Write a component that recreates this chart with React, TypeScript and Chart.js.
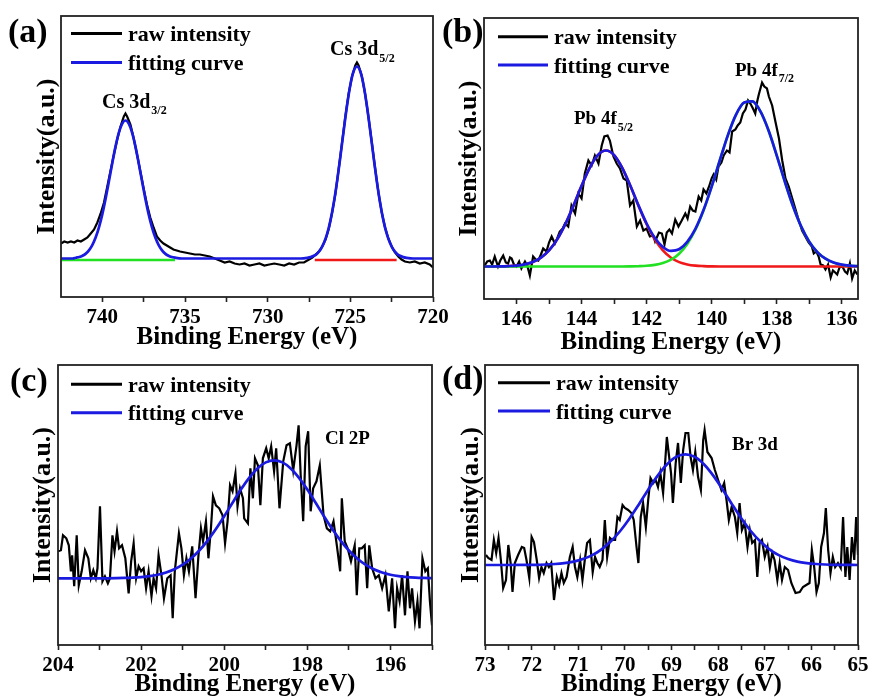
import React, { useEffect, useRef } from 'react';
import { Chart, registerables } from 'chart.js';

Chart.register(...registerables);

const FONT = "'Liberation Serif', 'Times New Roman', serif";
const BLUE = '#1a1ae0';
const GREEN = '#22e022';
const RED = '#f01818';
const BLACK = '#000000';

type Pt = [number, number];

// ---------------- Panel (a) Cs 3d ----------------
const aTicks = [720, 722.5, 725, 727.5, 730, 732.5, 735, 737.5, 740];
const aMajors = [720, 725, 730, 735, 740];
const aRaw: Pt[] = [
  [742.5, 15], [742.3, 17], [742.1, 16], [741.9, 17], [741.7, 16], [741.5, 18], [741.3, 17], [741.1, 19], [740.9, 21], [740.7, 25],
  [740.5, 29], [740.3, 36], [740.1, 45], [739.9, 56], [739.7, 72], [739.5, 88], [739.3, 104], [739.1, 119], [738.9, 132], [738.7, 142],
  [738.6, 145], [738.5, 142], [738.3, 134], [738.1, 120], [737.9, 104], [737.7, 87], [737.5, 70], [737.3, 54], [737.1, 41], [736.9, 31],
  [736.7, 22], [736.5, 18], [736.3, 15], [736.1, 13], [735.9, 11], [735.7, 9], [735.5, 8], [735.3, 7], [735.0, 6], [734.7, 5],
  [734.4, 4], [734.1, 4], [733.8, 3], [733.5, 2], [733.2, 0], [732.9, -2], [732.6, -4], [732.3, -3], [732.0, -5], [731.7, -6],
  [731.4, -5], [731.1, -7], [730.8, -6], [730.5, -5], [730.2, -7], [729.9, -6], [729.6, -5], [729.3, -6], [729.0, -7], [728.7, -5],
  [728.4, -6], [728.1, -4], [727.8, -4], [727.5, -1], [727.3, 1], [727.1, 4], [726.9, 7], [726.7, 12], [726.5, 19], [726.3, 30],
  [726.1, 46], [725.9, 65], [725.7, 90], [725.5, 116], [725.3, 142], [725.1, 165], [724.9, 182], [724.7, 193], [724.6, 196], [724.5, 193],
  [724.3, 182], [724.1, 164], [723.9, 141], [723.7, 116], [723.5, 90], [723.3, 66], [723.1, 46], [722.9, 31], [722.7, 20], [722.5, 12],
  [722.3, 6], [722.1, 2], [721.9, -1], [721.7, -3], [721.4, -4], [721.1, -3], [720.8, -5], [720.5, -4], [720.2, -6], [720.0, -9],
];
const aFit: Pt[] = [
  [742.5, 0], [741.8, 0], [741.6, 0.8], [741.4, 1.5], [741.2, 2.8], [741.0, 4.9], [740.8, 8.4], [740.6, 13.7], [740.4, 21.2], [740.2, 31.4],
  [740.0, 44.4], [739.8, 60.1], [739.6, 77.4], [739.4, 95.3], [739.2, 112.1], [739.0, 125.8], [738.8, 134.8], [738.6, 138], [738.4, 134.8], [738.2, 125.8],
  [738.0, 112.1], [737.8, 95.3], [737.6, 77.4], [737.4, 60.1], [737.2, 44.4], [737.0, 31.4], [736.8, 21.2], [736.6, 13.7], [736.4, 8.4], [736.2, 4.9],
  [736.0, 2.8], [735.8, 1.5], [735.6, 0.8], [735.2, 0], [728.0, 0], [727.6, 0.7], [727.4, 1.4], [727.2, 2.7], [727.0, 5.1], [726.8, 9.0],
  [726.6, 15.4], [726.4, 24.8], [726.2, 38.1], [726.0, 55.7], [725.8, 77.4], [725.6, 102.1], [725.4, 128.2], [725.2, 153.0], [725.0, 173.6], [724.8, 187.2],
  [724.6, 192], [724.4, 187.2], [724.2, 173.6], [724.0, 153.0], [723.8, 128.2], [723.6, 102.1], [723.4, 77.4], [723.2, 55.7], [723.0, 38.1], [722.8, 24.8],
  [722.6, 15.4], [722.4, 9.0], [722.2, 5.1], [722.0, 2.7], [721.8, 1.4], [721.6, 0.7], [721.2, 0], [720.0, 0],
];
const aGreen: Pt[] = [[742.45, -1.5], [735.6, -1.5]];
const aRed: Pt[] = [[727.15, -1.5], [722.2, -1.5]];

// ---------------- Panel (b) Pb 4f ----------------
const bTicks = [136, 137, 138, 139, 140, 141, 142, 143, 144, 145, 146];
const bMajors = [136, 138, 140, 142, 144, 146];
const bRaw: Pt[] = [
  [146.98, 1], [146.9, 5], [146.82, 6], [146.75, 2], [146.67, 10], [146.57, 0], [146.5, 6], [146.41, 11], [146.33, 4], [146.26, 3],
  [146.2, 9], [146.15, 8], [146.08, 2], [146.0, 0], [145.92, 5], [145.85, -2], [145.74, 5], [145.67, 1], [145.59, -9], [145.49, 10],
  [145.41, 7], [145.33, 6], [145.25, 12], [145.18, 18], [145.08, 15], [145.0, 24], [144.92, 30], [144.82, 23], [144.75, 28], [144.67, 35],
  [144.58, 38], [144.51, 43], [144.41, 40], [144.31, 61], [144.2, 53], [144.1, 73], [144.0, 68], [143.9, 93], [143.79, 106], [143.69, 101],
  [143.59, 111], [143.48, 103], [143.38, 121], [143.3, 130], [143.2, 131], [143.13, 126], [143.02, 110], [142.92, 103], [142.82, 98], [142.71, 88],
  [142.61, 86], [142.51, 61], [142.41, 66], [142.3, 40], [142.2, 46], [142.1, 36], [142.0, 38], [141.9, 30], [141.8, 31], [141.74, 25],
  [141.62, 34], [141.53, 33], [141.45, 22], [141.38, 34], [141.3, 37], [141.22, 33], [141.12, 47], [141.02, 40], [140.92, 46], [140.81, 53],
  [140.74, 48], [140.66, 60], [140.58, 56], [140.5, 55], [140.4, 70], [140.32, 66], [140.25, 77], [140.16, 73], [140.08, 80], [140.0, 88],
  [139.94, 92], [139.86, 87], [139.79, 100], [139.7, 104], [139.63, 111], [139.53, 116], [139.45, 114], [139.37, 135], [139.27, 137], [139.2, 141],
  [139.12, 144], [139.04, 153], [138.96, 157], [138.88, 166], [138.81, 163], [138.73, 158], [138.66, 153], [138.6, 165], [138.55, 172], [138.45, 184],
  [138.38, 180], [138.3, 178], [138.24, 170], [138.14, 161], [138.04, 145], [137.93, 128], [137.83, 106], [137.73, 88], [137.63, 80], [137.53, 69],
  [137.42, 57], [137.32, 46], [137.22, 36], [137.12, 30], [137.02, 24], [136.92, 20], [136.86, 13], [136.78, 15], [136.71, 10], [136.65, 2],
  [136.57, 1], [136.5, -3], [136.42, 2], [136.34, -11], [136.27, -4], [136.2, -6], [136.14, -8], [136.07, -1], [135.98, 0], [135.9, -5],
  [135.83, -7], [135.75, 3], [135.68, -12], [135.6, -4], [135.52, -8],
];
const bFit: Pt[] = [
  [147, 0], [146.75, 0], [146.5, 0.1], [146.25, 0.4], [146, 0.9], [145.75, 2.1], [145.5, 4.4], [145.25, 8.8], [145, 16.1], [144.75, 27.1],
  [144.5, 42.3], [144.25, 60.8], [144, 80.7], [143.75, 98.7], [143.5, 111.4], [143.25, 116], [143, 111.4], [142.75, 98.7], [142.5, 80.8], [142.25, 61.1],
  [142, 43.0], [141.75, 28.7], [141.5, 19.5], [141.25, 15.6], [141, 17.2], [140.75, 24.6], [140.5, 37.6], [140.25, 56.4], [140, 79.9], [139.75, 106.0],
  [139.5, 131.4], [139.25, 151.9], [139, 163.9], [138.75, 165.1], [138.5, 155.1], [138.25, 136.0], [138, 111.2], [137.75, 84.9], [137.5, 60.5], [137.25, 40.2],
  [137, 24.9], [136.75, 14.4], [136.5, 7.8], [136.25, 3.9], [136, 1.8], [135.75, 0.8], [135.5, 0.3],
];
const bRed: Pt[] = [
  [147, 0], [146.75, 0], [146.5, 0.1], [146.25, 0.4], [146, 0.9], [145.75, 2.1], [145.5, 4.4], [145.25, 8.8], [145, 16.1], [144.75, 27.1],
  [144.5, 42.3], [144.25, 60.8], [144, 80.7], [143.75, 98.7], [143.5, 111.4], [143.25, 116], [143, 111.4], [142.75, 98.7], [142.5, 80.7], [142.25, 60.8],
  [142, 42.3], [141.75, 27.1], [141.5, 16.1], [141.25, 8.8], [141, 4.4], [140.75, 2.1], [140.5, 0.9], [140.25, 0.4], [140, 0.1], [139.75, 0], [135.5, 0],
];
const bGreen: Pt[] = [
  [147, 0], [142.75, 0], [142.5, 0.1], [142.25, 0.3], [142, 0.7], [141.75, 1.6], [141.5, 3.4], [141.25, 6.8], [141, 12.8], [140.75, 22.5],
  [140.5, 36.7], [140.25, 56.0], [140, 79.8], [139.75, 106.0], [139.5, 131.4], [139.25, 151.9], [139, 163.9], [138.75, 165.1], [138.5, 155.1], [138.25, 136.0],
  [138, 111.2], [137.75, 84.9], [137.5, 60.5], [137.25, 40.2], [137, 24.9], [136.75, 14.4], [136.5, 7.8], [136.25, 3.9], [136, 1.8], [135.75, 0.8], [135.5, 0.3],
];

// ---------------- Panel (c) Cl 2p ----------------
const cTicks = [195, 196, 197, 198, 199, 200, 201, 202, 203, 204];
const cMajors = [196, 198, 200, 202, 204];
const cRaw: Pt[] = [
  [204.0, 27], [203.93, 28], [203.88, 43], [203.8, 40], [203.74, 33], [203.69, 7], [203.66, 23], [203.61, -8], [203.55, 43], [203.5, -7],
  [203.43, 7], [203.35, 28], [203.27, 20], [203.21, 0], [203.15, 8], [203.09, 0], [203.05, 10], [202.99, 72], [202.93, -3], [202.87, 2],
  [202.8, -5], [202.75, 0], [202.69, 43], [202.64, 27], [202.58, 47], [202.53, 30], [202.46, 33], [202.38, 20], [202.3, -15], [202.24, 17],
  [202.18, 35], [202.12, 0], [202.06, 12], [202.0, 7], [201.94, 10], [201.88, -10], [201.82, 7], [201.75, -18], [201.7, 0], [201.64, -10],
  [201.58, 23], [201.51, 3], [201.45, -20], [201.37, 0], [201.29, 3], [201.24, -40], [201.19, 7], [201.09, 45], [201.03, 30], [200.97, 3],
  [200.91, 20], [200.85, 7], [200.77, 32], [200.69, -20], [200.62, 23], [200.56, 50], [200.51, 37], [200.44, 57], [200.38, 20], [200.32, 50],
  [200.27, 82], [200.2, 73], [200.12, 70], [200.04, 63], [199.98, 35], [199.92, 57], [199.86, 93], [199.8, 87], [199.73, 105], [199.68, 72],
  [199.62, 90], [199.55, 80], [199.52, 60], [199.43, 55], [199.37, 110], [199.31, 80], [199.26, 120], [199.19, 113], [199.13, 73], [199.07, 120],
  [198.99, 130], [198.93, 120], [198.87, 132], [198.8, 107], [198.75, 130], [198.67, 70], [198.58, 117], [198.5, 133], [198.42, 135], [198.34, 108],
  [198.26, 133], [198.21, 153], [198.16, 103], [198.1, 57], [198.04, 132], [197.98, 147], [197.92, 67], [197.86, 90], [197.78, 97], [197.7, 113],
  [197.61, 63], [197.53, 50], [197.45, 47], [197.37, 57], [197.29, 33], [197.21, 7], [197.17, 80], [197.1, 37], [197.03, 30], [196.95, 17],
  [196.86, 33], [196.81, -17], [196.75, 30], [196.69, 30], [196.62, 33], [196.56, -10], [196.51, 33], [196.44, 10], [196.36, 0], [196.28, 3],
  [196.2, -10], [196.12, 3], [196.04, -33], [195.96, 0], [195.89, -50], [195.84, -10], [195.78, -23], [195.72, 3], [195.65, -37], [195.59, 7],
  [195.53, -30], [195.48, -10], [195.41, -43], [195.35, -23], [195.3, -50], [195.23, 20], [195.16, 7], [195.1, 10], [195.05, -23], [195.0, -47],
];
const cFit: Pt[] = [
  [204, 0], [203.0, 0], [202.6, 0.2], [202.4, 0.4], [202.2, 0.7], [202.0, 1.2], [201.8, 2.1], [201.6, 3.6], [201.4, 5.8], [201.2, 9.0],
  [201.0, 13.6], [200.8, 19.8], [200.6, 27.8], [200.4, 37.6], [200.2, 49.2], [200.0, 62.0], [199.8, 75.5], [199.6, 88.7], [199.4, 100.5], [199.2, 109.9],
  [199.0, 115.9], [198.8, 118], [198.6, 115.9], [198.4, 109.9], [198.2, 100.5], [198.0, 88.7], [197.8, 75.5], [197.6, 62.0], [197.4, 49.2], [197.2, 37.6],
  [197.0, 27.8], [196.8, 19.8], [196.6, 13.6], [196.4, 9.0], [196.2, 5.8], [196.0, 3.6], [195.8, 2.1], [195.6, 1.2], [195.4, 0.7], [195.2, 0.4], [195.0, 0.2],
];

// ---------------- Panel (d) Br 3d ----------------
const dTicks = [65, 65.5, 66, 66.5, 67, 67.5, 68, 68.5, 69, 69.5, 70, 70.5, 71, 71.5, 72, 72.5, 73];
const dMajors = [65, 66, 67, 68, 69, 70, 71, 72, 73];
const dRaw: Pt[] = [
  [72.98, 10], [72.93, 7], [72.86, 5], [72.81, 25], [72.76, 12], [72.71, 27], [72.66, 5], [72.61, -23], [72.55, -15], [72.5, 20],
  [72.45, 2], [72.41, -27], [72.36, 2], [72.29, 10], [72.21, 18], [72.16, 17], [72.11, 5], [72.05, -13], [72.0, 28], [71.95, 23],
  [71.89, 5], [71.84, -13], [71.79, -2], [71.74, -8], [71.68, 2], [71.63, -2], [71.58, 2], [71.52, -35], [71.46, -12], [71.41, -20],
  [71.36, -8], [71.31, -18], [71.25, -12], [71.18, 8], [71.12, 18], [71.07, -2], [71.02, -12], [70.96, 5], [70.91, -15], [70.86, 5],
  [70.81, 22], [70.75, 25], [70.69, -7], [70.64, 8], [70.59, 2], [70.54, -2], [70.48, 5], [70.43, 45], [70.38, 8], [70.32, 27],
  [70.27, 25], [70.21, 25], [70.16, 48], [70.11, 45], [70.05, 60], [70.0, 57], [69.93, 55], [69.86, 52], [69.81, 45], [69.75, 18],
  [69.71, 2], [69.66, 48], [69.61, 62], [69.55, 38], [69.5, 65], [69.45, 87], [69.39, 82], [69.34, 85], [69.29, 78], [69.24, 92],
  [69.18, 72], [69.1, 128], [69.01, 92], [68.97, 62], [68.91, 102], [68.86, 122], [68.8, 82], [68.75, 115], [68.7, 132], [68.64, 132],
  [68.59, 108], [68.54, 95], [68.49, 113], [68.43, 88], [68.37, 75], [68.32, 125], [68.29, 135], [68.23, 113], [68.14, 107], [68.07, 95],
  [68.0, 85], [67.93, 75], [67.87, 82], [67.82, 65], [67.77, 45], [67.71, 58], [67.64, 48], [67.59, 32], [67.54, 62], [67.49, 35],
  [67.43, 42], [67.37, 18], [67.32, 35], [67.27, 22], [67.21, 25], [67.16, -12], [67.11, 22], [67.06, 25], [67.0, 8], [66.94, 18],
  [66.89, -2], [66.84, 12], [66.79, 5], [66.73, -15], [66.68, 2], [66.63, -15], [66.57, -2], [66.5, -5], [66.43, -18], [66.34, -28],
  [66.25, -27], [66.18, -22], [66.11, -20], [66.04, -18], [65.99, 15], [65.94, -2], [65.89, -27], [65.84, -18], [65.79, 18], [65.73, 32],
  [65.69, 57], [65.64, 15], [65.59, -8], [65.54, 8], [65.49, -2], [65.43, 2], [65.37, -3], [65.32, 48], [65.27, -12], [65.23, 18],
  [65.18, -15], [65.13, 28], [65.08, 5], [65.04, 48], [65.0, 10],
];
const dFit: Pt[] = [
  [73, 0], [72.1, 0.1], [71.9, 0.2], [71.7, 0.5], [71.5, 1.0], [71.3, 1.9], [71.1, 3.4], [70.9, 6.0], [70.7, 9.9], [70.5, 15.7],
  [70.3, 23.7], [70.1, 34.0], [69.9, 46.5], [69.7, 60.6], [69.5, 75.3], [69.3, 89.1], [69.1, 100.5], [68.9, 108.1], [68.7, 110.7], [68.5, 108.1],
  [68.3, 100.5], [68.1, 89.1], [67.9, 75.3], [67.7, 60.6], [67.5, 46.5], [67.3, 34.0], [67.1, 23.7], [66.9, 15.7], [66.7, 9.9], [66.5, 6.0],
  [66.3, 3.4], [66.1, 1.9], [65.9, 1.0], [65.7, 0.5], [65.5, 0.2], [65.3, 0.1], [65, 0],
];

// ---------------- layout specs ----------------
type Note = { text: string; x: number; y: number; size: number; sub?: string; subY?: number; subSize?: number };
type Spec = {
  left: number; top: number; width: number; height: number;
  area: { l: number; t: number; r: number; b: number };
  xMin: number; xMax: number; yMin: number; yMax: number;
  ticks: number[]; majors: number[];
  raw: Pt[]; fit: Pt[]; comps: { pts: Pt[]; color: string; smooth: boolean }[];
  yTitlePad: number;
  label: { text: string; x: number; y: number };
  legend: { x1: number; x2: number; tx: number; ly: number[]; ty: number[] };
  notes: Note[];
};

const specs: Spec[] = [
  {
    left: 0, top: 0, width: 456, height: 353,
    area: { l: 61, t: 16, r: 433, b: 297 },
    xMin: 720, xMax: 742.5, yMin: -38.5, yMax: 242.5,
    ticks: aTicks, majors: aMajors, raw: aRaw, fit: aFit,
    comps: [{ pts: aGreen, color: GREEN, smooth: false }, { pts: aRed, color: RED, smooth: false }],
    yTitlePad: 31.4,
    label: { text: '(a)', x: 8, y: 42 },
    legend: { x1: 71, x2: 122, tx: 128, ly: [33.5, 62.5], ty: [41, 69.5] },
    notes: [
      { text: 'Cs 3d', x: 102, y: 108, size: 20, sub: '3/2', subY: 114, subSize: 12 },
      { text: 'Cs 3d', x: 330, y: 55, size: 20, sub: '5/2', subY: 61.5, subSize: 12 },
    ],
  },
  {
    left: 440, top: 0, width: 430, height: 358,
    area: { l: 484, t: 18, r: 858, b: 299 },
    xMin: 135.5, xMax: 147, yMin: -32.5, yMax: 248.5,
    ticks: bTicks, majors: bMajors, raw: bRaw, fit: bFit,
    comps: [{ pts: bGreen, color: GREEN, smooth: true }, { pts: bRed, color: RED, smooth: true }],
    yTitlePad: 13.4,
    label: { text: '(b)', x: 442, y: 42 },
    legend: { x1: 498, x2: 548, tx: 554, ly: [36.7, 65], ty: [44, 72.5] },
    notes: [
      { text: 'Pb 4f', x: 574, y: 124, size: 19, sub: '5/2', subY: 130.5, subSize: 12 },
      { text: 'Pb 4f', x: 735, y: 75.5, size: 19, sub: '7/2', subY: 82, subSize: 12 },
    ],
  },
  {
    left: 0, top: 350, width: 456, height: 350,
    area: { l: 58, t: 365, r: 432, b: 645 },
    xMin: 195, xMax: 204, yMin: -66.7, yMax: 213.3,
    ticks: cTicks, majors: cMajors, raw: cRaw, fit: cFit, comps: [],
    yTitlePad: 27.4,
    label: { text: '(c)', x: 10, y: 391 },
    legend: { x1: 71, x2: 122, tx: 128, ly: [384.3, 412.7], ty: [392, 420] },
    notes: [{ text: 'Cl 2P', x: 325, y: 444, size: 19 }],
  },
  {
    left: 440, top: 350, width: 430, height: 350,
    area: { l: 485, t: 365, r: 858, b: 645 },
    xMin: 65, xMax: 73, yMin: -80, yMax: 200,
    ticks: dTicks, majors: dMajors, raw: dRaw, fit: dFit, comps: [],
    yTitlePad: 15.4,
    label: { text: '(d)', x: 442, y: 389 },
    legend: { x1: 498, x2: 550, tx: 556, ly: [382.7, 411], ty: [390, 418.5] },
    notes: [{ text: 'Br 3d', x: 732, y: 450, size: 19 }],
  },
];

const toXY = (pts: Pt[]) => pts.map(([x, y]) => ({ x, y }));

function makeDecor(spec: Spec) {
  return {
    id: 'decor',
    afterDraw(chart: any) {
      const ctx = chart.ctx as CanvasRenderingContext2D;
      const a = chart.chartArea;
      const ox = spec.left;
      const oy = spec.top;
      ctx.save();
      ctx.strokeStyle = '#222';
      ctx.lineWidth = 1.8;
      ctx.strokeRect(a.left, a.top, a.right - a.left, a.bottom - a.top);
      ctx.fillStyle = '#000';
      ctx.textAlign = 'left';
      ctx.textBaseline = 'alphabetic';
      ctx.font = `bold 34px ${FONT}`;
      ctx.fillText(spec.label.text, spec.label.x - ox, spec.label.y - oy);
      const names = ['raw intensity', 'fitting curve'];
      const cols = [BLACK, BLUE];
      for (let i = 0; i < 2; i++) {
        ctx.strokeStyle = cols[i];
        ctx.lineWidth = 3;
        ctx.beginPath();
        ctx.moveTo(spec.legend.x1 - ox, spec.legend.ly[i] - oy);
        ctx.lineTo(spec.legend.x2 - ox, spec.legend.ly[i] - oy);
        ctx.stroke();
        ctx.font = `bold 22px ${FONT}`;
        ctx.fillText(names[i], spec.legend.tx - ox, spec.legend.ty[i] - oy);
      }
      for (const n of spec.notes) {
        ctx.font = `bold ${n.size}px ${FONT}`;
        ctx.fillText(n.text, n.x - ox, n.y - oy);
        if (n.sub) {
          const w = ctx.measureText(n.text).width;
          ctx.font = `bold ${n.subSize}px ${FONT}`;
          ctx.fillText(n.sub, n.x - ox + w + 1, (n.subY as number) - oy);
        }
      }
      ctx.restore();
    },
  };
}

function Panel({ spec }: { spec: Spec }) {
  const ref = useRef<HTMLCanvasElement | null>(null);
  useEffect(() => {
    const canvas = ref.current;
    if (!canvas) return;
    const datasets: any[] = [];
    datasets.push({
      data: toXY(spec.fit), borderColor: BLUE, borderWidth: 2.7, showLine: true,
      pointRadius: 0, fill: false, cubicInterpolationMode: 'monotone',
    });
    for (const c of spec.comps) {
      datasets.push({
        data: toXY(c.pts), borderColor: c.color, borderWidth: 2.6, showLine: true,
        pointRadius: 0, fill: false, cubicInterpolationMode: c.smooth ? 'monotone' : 'default', tension: 0,
      });
    }
    datasets.push({
      data: toXY(spec.raw), borderColor: BLACK, borderWidth: 2.2, showLine: true,
      pointRadius: 0, fill: false, tension: 0,
    });
    const isMajor = (v: number) => spec.majors.some((m) => Math.abs(m - v) < 1e-6);
    const chart = new Chart(canvas, {
      type: 'scatter',
      data: { datasets },
      options: {
        animation: false,
        responsive: false,
        devicePixelRatio: 1,
        events: [],
        layout: {
          padding: {
            left: 0,
            top: spec.area.t - spec.top,
            right: spec.left + spec.width - spec.area.r,
            bottom: 0,
          },
        },
        plugins: { legend: { display: false }, tooltip: { enabled: false } },
        scales: {
          x: {
            type: 'linear',
            reverse: true,
            min: spec.xMin,
            max: spec.xMax,
            afterBuildTicks: (s: any) => {
              s.ticks = spec.ticks.map((v) => ({ value: v }));
            },
            afterFit: (s: any) => {
              s.height = spec.top + spec.height - spec.area.b;
            },
            ticks: {
              autoSkip: false,
              maxRotation: 0,
              minRotation: 0,
              padding: 5,
              color: '#000',
              font: { family: FONT, size: 21, weight: 'bold', lineHeight: 1 },
              callback: (v: any) => (isMajor(Number(v)) ? String(Number(v)) : ''),
            },
            grid: {
              drawOnChartArea: false,
              drawTicks: true,
              tickLength: 5,
              tickWidth: 1.6,
              tickColor: '#222',
              color: '#222',
            },
            border: { display: false },
            title: {
              display: true,
              text: 'Binding Energy (eV)',
              color: '#000',
              font: { family: FONT, size: 25, weight: 'bold', lineHeight: 1.2 },
              padding: { top: 0, bottom: 0 },
            },
          },
          y: {
            type: 'linear',
            min: spec.yMin,
            max: spec.yMax,
            afterFit: (s: any) => {
              s.width = spec.area.l - spec.left;
            },
            ticks: { display: false },
            grid: { display: false },
            border: { display: false },
            title: {
              display: true,
              text: 'Intensity(a.u.)',
              color: '#000',
              font: { family: FONT, size: 26, weight: 'bold', lineHeight: 1.2 },
              padding: { top: spec.yTitlePad, bottom: 0 },
            },
          },
        },
      } as any,
      plugins: [makeDecor(spec)],
    });
    return () => chart.destroy();
  }, [spec]);
  return (
    <canvas
      ref={ref}
      width={spec.width}
      height={spec.height}
      style={{ position: 'absolute', left: spec.left, top: spec.top, width: spec.width, height: spec.height }}
    />
  );
}

export default function App() {
  return (
    <div style={{ position: 'absolute', left: 0, top: 0, width: 870, height: 700, background: '#fff', overflow: 'hidden' }}>
      {specs.map((s, i) => (
        <Panel key={i} spec={s} />
      ))}
    </div>
  );
}
